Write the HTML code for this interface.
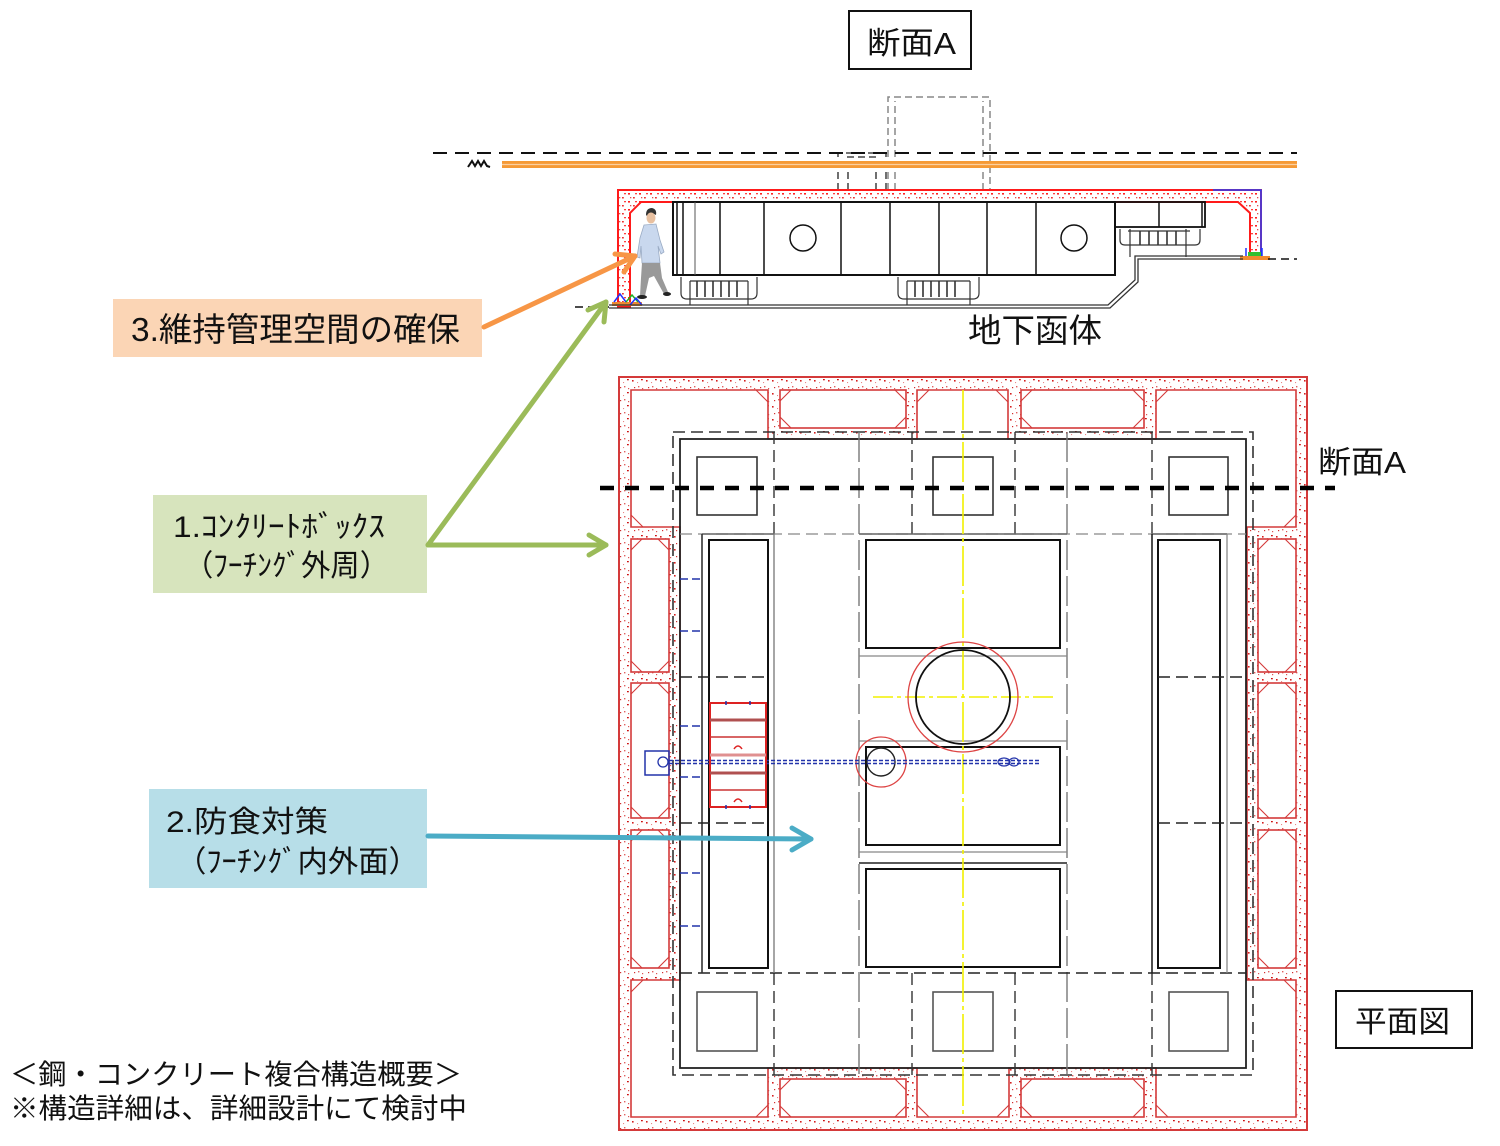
<!DOCTYPE html>
<html><head><meta charset="utf-8"><style>
html,body{margin:0;padding:0;background:#fff;}
svg{display:block;}
text{font-family:"Liberation Sans","Noto Sans CJK JP",sans-serif;fill:#111;}
</style></head><body>
<svg width="1500" height="1146" viewBox="0 0 1500 1146" xmlns="http://www.w3.org/2000/svg">
<defs>
<pattern id="cp" width="14" height="13" patternUnits="userSpaceOnUse">
<rect x="2" y="3" width="1.6" height="1.6" fill="#d42020"/>
<rect x="8" y="9" width="1.4" height="1.4" fill="#e06060"/>
<rect x="11" y="2" width="1.8" height="1.3" fill="#cc1010"/>
<rect x="4" y="10" width="1.2" height="1.2" fill="#d03030"/>
<rect x="7" y="5" width="1.1" height="1.1" fill="#e88888"/>
<rect x="12" y="11" width="1.2" height="1.2" fill="#d55"/>
</pattern>
<pattern id="cs" width="11" height="8" patternUnits="userSpaceOnUse">
<rect x="1" y="1" width="2" height="1.6" fill="#ff2020"/>
<rect x="6" y="5" width="1.8" height="1.5" fill="#ee3030"/>
<rect x="8" y="1" width="2" height="1.3" fill="#ff4040"/>
<rect x="3" y="5" width="1.3" height="1.3" fill="#e05050"/>
</pattern>
</defs>

<!-- ===== Title 断面A ===== -->
<rect x="849" y="11" width="122" height="58" fill="none" stroke="#111" stroke-width="2"/>
<text x="867" y="54" font-size="31" textLength="89" lengthAdjust="spacingAndGlyphs">断面A</text>

<!-- ===== Section A ===== -->
<g stroke="#888" stroke-width="1.5" stroke-dasharray="7 4" fill="none">
<path d="M888,190 V97 H990 V190"/>
<path d="M895,190 V101"/>
<path d="M983,190 V101"/>
</g>
<g stroke="#222" stroke-width="1.3" stroke-dasharray="7 4" fill="none">
<path d="M835,153 H889"/>
<path d="M847,157 H877"/>
<path d="M838,190 V153"/><path d="M848,190 V157"/><path d="M876,190 V157"/><path d="M886,190 V153"/>
</g>
<line x1="433" y1="153" x2="1297" y2="153" stroke="#111" stroke-width="2" stroke-dasharray="14 8"/>
<rect x="502" y="161" width="795" height="7" fill="#f59a36"/>
<line x1="502" y1="164.5" x2="1297" y2="164.5" stroke="#fbd0a0" stroke-width="1.2"/>
<path d="M468,167 L472,161 L475,166 L478,161 L481,166 L484,161 L487,166 L490,167" fill="none" stroke="#111" stroke-width="2"/>

<path d="M618,190 H1261 V257 H1250 V213 L1238,202 H641 L630,213 V307 H618 Z" fill="url(#cs)" stroke="#ff1a1a" stroke-width="2"/>
<path d="M1213,190 H1261 V257" fill="none" stroke="#2040ff" stroke-width="1.5"/>
<g>
<rect x="612" y="302" width="30" height="4" fill="#f08a30"/>
<path d="M614,302 L620,294 L626,302" fill="none" stroke="#2030ff" stroke-width="1.5"/>
<path d="M626,302 L632,295 L638,302" fill="none" stroke="#20b020" stroke-width="1.5"/>
<path d="M630,305 L636,298 L642,305" fill="none" stroke="#2030ff" stroke-width="1.5"/>
<rect x="1240" y="256" width="30" height="4" fill="#f08a30"/>
<rect x="1248" y="252" width="13" height="4" fill="#30c030"/>
<path d="M1246,256 V248 M1262,256 V248" stroke="#2030ff" stroke-width="1.5"/>
</g>

<g stroke="#111" fill="none">
<rect x="673" y="202" width="442" height="73" stroke-width="2"/>
<path d="M677,202 V275 M683,202 V275 M720,202 V275 M764,202 V275 M841,202 V275 M890,202 V275 M939,202 V275 M987,202 V275 M1036,202 V275" stroke-width="1.5"/>
<path d="M695,202 V275" stroke-width="1" stroke="#555"/>
<circle cx="803" cy="238" r="13" stroke-width="1.5"/>
<circle cx="1074" cy="238" r="13" stroke-width="1.5"/>
<rect x="1115" y="202" width="90" height="25" stroke-width="1.8"/>
<path d="M1159,202 V227 M1202,202 V227" stroke-width="1.5"/>
</g>
<g stroke="#333" fill="none" stroke-width="1.2">
<path d="M681,277 V293 Q681,299 687,299 H751 Q757,299 757,293 V277"/>
<path d="M690,281 H748 M690,281 V305 M748,281 V305"/>
<path d="M697,281 V297 M705,281 V297 M713,281 V297 M721,281 V297 M729,281 V297 M737,281 V297" stroke-width="1.6"/>
<path d="M898,277 V293 Q898,299 904,299 H973 Q979,299 979,293 V277"/>
<path d="M907,281 H970 M907,281 V305 M970,281 V305"/>
<path d="M915,281 V297 M923,281 V297 M931,281 V297 M939,281 V297 M947,281 V297 M955,281 V297" stroke-width="1.6"/>
<path d="M1120,229 V240 Q1120,245 1125,245 H1195 Q1200,245 1200,240 V229"/>
<path d="M1130,229 V257 M1186,229 V257 M1128,231 H1190"/>
<path d="M1140,231 V245 M1149,231 V245 M1158,231 V245 M1167,231 V245 M1176,231 V245" stroke-width="1.6"/>
</g>
<g stroke="#333" fill="none" stroke-width="1.3">
<path d="M609,305 H1108 L1135,280 V256 H1243"/>
<path d="M609,308 H1110 L1138,282 V259 H1243"/>
</g>
<line x1="1268" y1="259" x2="1297" y2="259" stroke="#111" stroke-width="1.6" stroke-dasharray="8 5"/>
<line x1="575" y1="307" x2="612" y2="307" stroke="#111" stroke-width="1.6" stroke-dasharray="8 5"/>

<g>
<path d="M646,215 Q646,208 652,208 Q657,209 656,215 L654,214 Q650,212 647,216 Z" fill="#333"/>
<ellipse cx="651" cy="218" rx="4.5" ry="5.5" fill="#e8c0a0"/>
<path d="M644,225 L656,224 L660,240 L664,252 L661,254 L658,246 L660,263 L642,263 L641,246 L640,258 L637,257 L640,238 Z" fill="#c9d8ee" stroke="#9aabc4" stroke-width="0.8"/>
<path d="M642,263 L660,263 L662,278 L668,292 L664,294 L654,276 L649,278 L645,296 L640,296 L641,278 Z" fill="#999"/>
<ellipse cx="642" cy="297" rx="5" ry="2" fill="#222"/>
<ellipse cx="667" cy="294" rx="4" ry="2" fill="#222"/>
</g>

<text x="968" y="342" font-size="33" textLength="134" lengthAdjust="spacingAndGlyphs">地下函体</text>

<!-- ===== Plan view concrete ===== -->
<rect x="619" y="377" width="688" height="753" fill="url(#cp)"/>
<path d="M631,390 H768 V439 H917 V390 H1008 V439 H1156 V390 H1296 V527 H1247 V980 H1296 V1117 H1156 V1068 H1009 V1117 H917 V1068 H768 V1117 H631 V980 H680 V527 H631 Z" fill="#fff" stroke="#d43a3a" stroke-width="1.6"/>
<rect x="619" y="377" width="688" height="753" fill="none" stroke="#d43a3a" stroke-width="2"/>
<g fill="#fff" stroke="#d43a3a" stroke-width="1.6">
<rect x="780" y="390" width="126" height="38"/>
<rect x="1021" y="390" width="123" height="38"/>
<rect x="780" y="1079" width="126" height="38"/>
<rect x="1021" y="1079" width="123" height="38"/>
<rect x="631" y="539" width="38" height="133"/>
<rect x="631" y="683" width="38" height="135"/>
<rect x="631" y="830" width="38" height="138"/>
<rect x="1258" y="539" width="38" height="133"/>
<rect x="1258" y="683" width="38" height="135"/>
<rect x="1258" y="830" width="38" height="138"/>
</g>
<g stroke="#d43a3a" stroke-width="1.1" fill="none">
<path d="M780,401 L791,390 M895,390 L906,401 M780,417 L791,428 M895,428 L906,417"/>
<path d="M1021,401 L1032,390 M1133,390 L1144,401 M1021,417 L1032,428 M1133,428 L1144,417"/>
<path d="M780,1090 L791,1079 M895,1079 L906,1090 M780,1106 L791,1117 M895,1117 L906,1106"/>
<path d="M1021,1090 L1032,1079 M1133,1079 L1144,1090 M1021,1106 L1032,1117 M1133,1117 L1144,1106"/>
<path d="M631,550 L642,539 M658,539 L669,550 M631,661 L642,672 M658,672 L669,661"/>
<path d="M631,694 L642,683 M658,683 L669,694 M631,807 L642,818 M658,818 L669,807"/>
<path d="M631,841 L642,830 M658,830 L669,841 M631,957 L642,968 M658,968 L669,957"/>
<path d="M1258,550 L1269,539 M1285,539 L1296,550 M1258,661 L1269,672 M1285,672 L1296,661"/>
<path d="M1258,694 L1269,683 M1285,683 L1296,694 M1258,807 L1269,818 M1285,818 L1296,807"/>
<path d="M1258,841 L1269,830 M1285,830 L1296,841 M1258,957 L1269,968 M1285,968 L1296,957"/>
<path d="M756,390 L768,402 M929,390 L917,402 M996,390 L1008,402 M1168,390 L1156,402"/>
<path d="M756,1117 L768,1105 M929,1117 L917,1105 M997,1117 L1009,1105 M1168,1117 L1156,1105"/>
<path d="M631,515 L643,527 M631,992 L643,980 M1296,515 L1284,527 M1296,992 L1284,980"/>
</g>

<!-- ===== Plan black lines ===== -->
<rect x="673" y="432" width="580" height="643" fill="none" stroke="#333" stroke-width="1.6" stroke-dasharray="12 6"/>
<rect x="680" y="439" width="566" height="629" fill="none" stroke="#222" stroke-width="1.8"/>
<g fill="none" stroke="#333" stroke-width="1.6">
<rect x="697" y="457" width="60" height="58"/>
<rect x="933" y="457" width="60" height="58"/>
<rect x="1169" y="457" width="59" height="58"/>
<rect x="697" y="992" width="60" height="59" stroke="#555"/>
<rect x="933" y="992" width="60" height="59" stroke="#555"/>
<rect x="1169" y="992" width="59" height="59" stroke="#555"/>
</g>
<g stroke="#333" stroke-width="1.4" stroke-dasharray="12 6" fill="none">
<path d="M774,432 V534 M912,432 V534 M1015,432 V534 M1152,432 V534"/>
<path d="M774,973 V1075 M912,973 V1075 M1015,973 V1075 M1152,973 V1075"/>
</g>
<g stroke="#777" stroke-width="1.4" stroke-dasharray="30 6" fill="none">
<path d="M859,432 V1075 M1067,432 V1075"/>
</g>
<line x1="680" y1="534" x2="1246" y2="534" stroke="#888" stroke-width="1.3" stroke-dasharray="12 6"/>
<path d="M702,534 H774 M859,534 H1067 M1152,534 H1227" stroke="#666" stroke-width="1.4"/>
<line x1="680" y1="973" x2="1246" y2="973" stroke="#222" stroke-width="1.6" stroke-dasharray="12 6"/>
<g fill="none">
<path d="M702,534 V973" stroke="#333" stroke-width="1.6"/>
<path d="M774,534 V973" stroke="#777" stroke-width="1.3"/>
<rect x="709" y="540" width="59" height="428" stroke="#111" stroke-width="2"/>
<path d="M680,677 H768 M680,823 H768" stroke="#222" stroke-width="1.5" stroke-dasharray="12 6"/>
</g>
<g fill="none">
<path d="M1152,534 V973" stroke="#222" stroke-width="1.6"/>
<path d="M1227,534 V973" stroke="#888" stroke-width="1.3"/>
<rect x="1158" y="540" width="62" height="428" stroke="#111" stroke-width="2"/>
<path d="M1158,677 H1246 M1158,823 H1246" stroke="#222" stroke-width="1.5" stroke-dasharray="12 6"/>
</g>
<g fill="none">
<rect x="866" y="540" width="194" height="108" stroke="#111" stroke-width="2"/>
<path d="M859,656 H1067 M859,741 H1067 M859,852 H1067" stroke="#888" stroke-width="1.3"/>
<path d="M859,863 H1067" stroke="#222" stroke-width="1.5"/>
<rect x="866" y="747" width="194" height="98" stroke="#111" stroke-width="2"/>
<rect x="866" y="869" width="194" height="98" stroke="#111" stroke-width="2"/>
</g>
<line x1="963" y1="390" x2="963" y2="1117" stroke="#f2f000" stroke-width="1.6" stroke-dasharray="40 4 4 4"/>
<line x1="873" y1="697" x2="1053" y2="697" stroke="#f2f000" stroke-width="1.6" stroke-dasharray="20 4 4 4"/>
<circle cx="963" cy="697" r="55" fill="none" stroke="#d44" stroke-width="1.3"/>
<circle cx="963" cy="697" r="47" fill="none" stroke="#111" stroke-width="1.8"/>
<circle cx="881" cy="762" r="25" fill="none" stroke="#d44" stroke-width="1.3"/>
<circle cx="881" cy="762" r="14" fill="none" stroke="#222" stroke-width="1.4"/>
<g stroke="#2233aa" fill="none">
<rect x="645" y="751" width="24" height="24" stroke-width="1.5"/>
<circle cx="663" cy="762" r="5" stroke-width="1.3"/>
<path d="M669,760.5 H1040 M669,763.5 H1040" stroke-width="1.6" stroke-dasharray="4 2"/>
<ellipse cx="1004" cy="762" rx="6" ry="4" stroke-width="1.2"/>
<ellipse cx="1014" cy="762" rx="5" ry="4" stroke-width="1.2"/>
<path d="M680,579 H702 M680,631 H702 M680,726 H702 M680,777 H702 M680,873 H702 M680,926 H702" stroke-width="1.6" stroke-dasharray="8 4"/>
</g>
<g fill="none">
<rect x="710" y="703" width="56" height="104" stroke="#dd2222" stroke-width="2"/>
<path d="M710,720 H766 M710,773 H766" stroke="#b05050" stroke-width="3"/>
<path d="M710,755 H766" stroke="#e09090" stroke-width="3"/>
<path d="M710,737 H766 M710,790 H766" stroke="#cc3333" stroke-width="1.5"/>
<path d="M734,749 Q738,743 742,749 M734,802 Q738,796 742,802" stroke="#dd2222" stroke-width="1.5"/>
<path d="M726,701 v4 M750,701 v4 M726,805 v4 M750,805 v4" stroke="#2233aa" stroke-width="1.5"/>
</g>

<line x1="600" y1="488" x2="1335" y2="488" stroke="#000" stroke-width="4.5" stroke-dasharray="14 11"/>
<text x="1318" y="473" font-size="31" textLength="88" lengthAdjust="spacingAndGlyphs">断面A</text>

<rect x="1336" y="991" width="136" height="57" fill="none" stroke="#111" stroke-width="2"/>
<text x="1355" y="1032" font-size="30" textLength="95" lengthAdjust="spacingAndGlyphs">平面図</text>

<!-- ===== Labels ===== -->
<rect x="113" y="299" width="369" height="58" fill="#fbd5b5"/>
<text x="131" y="341" font-size="33" textLength="329" lengthAdjust="spacingAndGlyphs">3.維持管理空間の確保</text>

<rect x="153" y="495" width="274" height="98" fill="#d7e4bd"/>
<text x="173" y="537" font-size="30" textLength="212" lengthAdjust="spacingAndGlyphs">1.ｺﾝｸﾘｰﾄﾎﾞｯｸｽ</text>
<text x="184" y="576" font-size="30" textLength="205" lengthAdjust="spacingAndGlyphs">（ﾌｰﾁﾝｸﾞ外周）</text>

<rect x="149" y="789" width="278" height="99" fill="#b7dee8"/>
<text x="166" y="832" font-size="30" textLength="162" lengthAdjust="spacingAndGlyphs">2.防食対策</text>
<text x="176" y="872" font-size="30" textLength="243" lengthAdjust="spacingAndGlyphs">（ﾌｰﾁﾝｸﾞ内外面）</text>

<text x="10" y="1084" font-size="28" textLength="452" lengthAdjust="spacingAndGlyphs">＜鋼・コンクリート複合構造概要＞</text>
<text x="10" y="1118" font-size="28" textLength="457" lengthAdjust="spacingAndGlyphs">※構造詳細は、詳細設計にて検討中</text>

<!-- ===== Arrows ===== -->
<g fill="none" stroke-width="5" stroke-linecap="round" stroke-linejoin="round">
<path d="M484,327 L635,256" stroke="#f79646"/>
<path d="M615,254 L635,256 L624,272" stroke="#f79646"/>
<path d="M428,545 L606,545" stroke="#9bbb59"/>
<path d="M589,535 L606,545 L589,555" stroke="#9bbb59"/>
<path d="M428,545 L606,302" stroke="#9bbb59"/>
<path d="M588,310 L606,302 L604,322" stroke="#9bbb59"/>
<path d="M428,836 L811,839" stroke="#4bacc6"/>
<path d="M792,828 L811,839 L792,850" stroke="#4bacc6"/>
</g>
</svg>
</body></html>
